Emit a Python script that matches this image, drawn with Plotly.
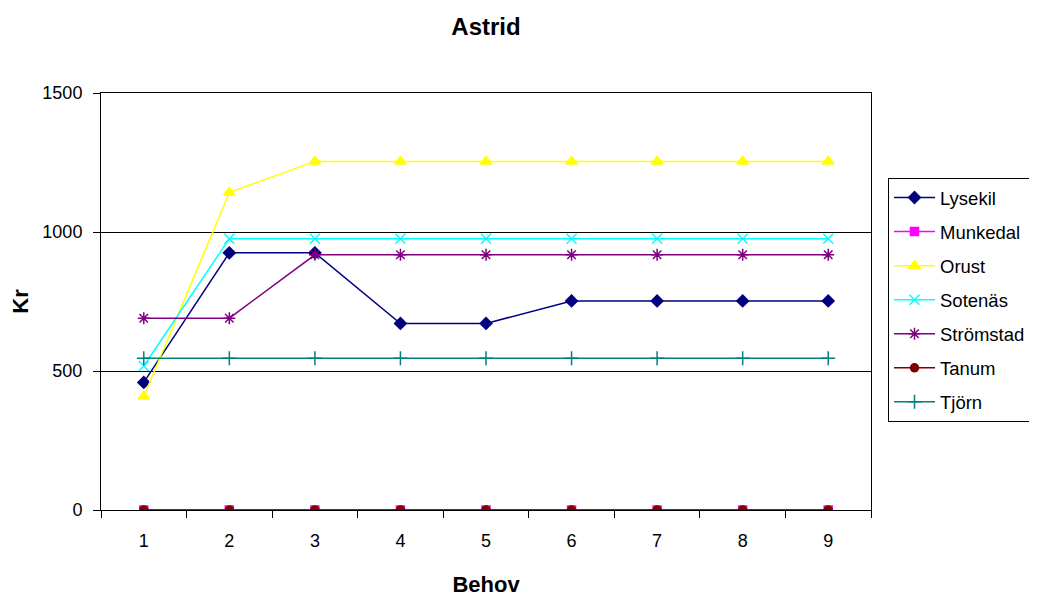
import plotly.graph_objects as go

behov = [1, 2, 3, 4, 5, 6, 7, 8, 9]
lysekil = [459, 925, 925, 671, 671, 752, 752, 752, 752]
munkedal = [0, 0, 0, 0, 0, 0, 0, 0, 0]
orust = [408, 1142, 1254, 1254, 1254, 1254, 1254, 1254, 1254]
sotenas = [518, 976, 976, 976, 976, 976, 976, 976, 976]
stromstad = [690, 690, 918, 918, 918, 918, 918, 918, 918]
tanum = [0, 0, 0, 0, 0, 0, 0, 0, 0]
tjorn = [546, 546, 546, 546, 546, 546, 546, 546, 546]

series = [
    ("Lysekil", lysekil, "#000080", "diamond", 9),
    ("Munkedal", munkedal, "#FF00FF", "square", 8),
    ("Orust", orust, "#FFFF00", "triangle-up", 10),
    ("Sotenäs", sotenas, "#00FFFF", "x-thin-open", 10),
    ("Strömstad", stromstad, "#800080", "asterisk-open", 10),
    ("Tanum", tanum, "#800000", "circle", 8),
    ("Tjörn", tjorn, "#008080", "cross-thin-open", 10),
]

fig = go.Figure()
for name, vals, color, sym, size in series:
    fig.add_trace(go.Scatter(
        x=[str(b) for b in behov], y=vals, name=name, mode="lines+markers",
        line=dict(color=color, width=1.5),
        marker=dict(symbol=sym, size=size, color=color,
                    line=dict(color=color, width=1.5)),
        legendgroup=name,
    ))

font = "Liberation Sans, Arial, sans-serif"
fig.update_layout(
    width=1037, height=598,
    margin=dict(l=93, r=174, t=85, b=96),
    paper_bgcolor="white", plot_bgcolor="white",
    font=dict(family=font, size=18, color="black"),
    title=dict(text="<b>Astrid</b>", x=0.5, xanchor="center", xref="paper",
               y=1 - 19 / 598, yanchor="middle",
               font=dict(size=24, family=font)),
    xaxis=dict(
        type="category", range=[-0.5, 8.5], automargin=True,
        showline=True, linecolor="black", linewidth=1, mirror=True,
        ticks="outside", tickson="boundaries", ticklen=7, tickcolor="black",
        showgrid=False, zeroline=False, ticklabelstandoff=14,
        title=dict(text="<b>Behov</b>", font=dict(size=22), standoff=27),
        tickfont=dict(size=18),
    ),
    yaxis=dict(
        range=[0, 1500], tickvals=[0, 500, 1000, 1500], automargin=False,
        showline=True, linecolor="black", linewidth=1, mirror=True,
        ticks="outside", ticklen=7, tickcolor="black",
        showgrid=True, gridcolor="black", gridwidth=1, zeroline=False,
        ticklabelstandoff=7,
        title=dict(text="<b>Kr</b>", font=dict(size=22), standoff=30),
        tickfont=dict(size=18),
    ),
    legend=dict(
        xref="container", yref="container",
        x=880 / 1037, xanchor="left", y=1 - 170 / 598, yanchor="top",
        bordercolor="black", borderwidth=1, bgcolor="white",
        font=dict(size=18.5, family=font), traceorder="grouped", tracegroupgap=7,
        itemwidth=41,
    ),
    showlegend=True,
)

fig.write_html("out.html")
